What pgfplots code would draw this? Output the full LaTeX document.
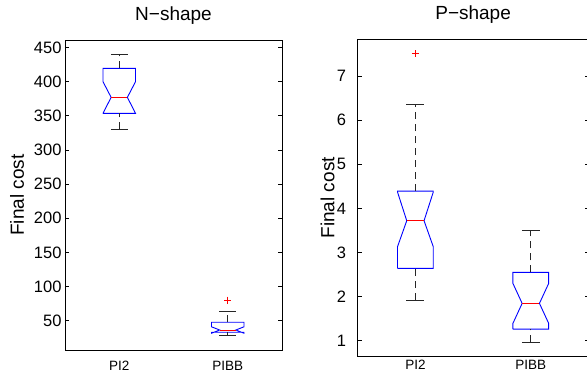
\documentclass[border=0pt]{standalone}
\usepackage{pgfplots}
\pgfplotsset{compat=1.18}
\usepackage{fontspec}
\setmainfont{Liberation Sans}
\pgfplotsset{
  mybox/.style={
    scale only axis, anchor=south west,
    xmin=0.5, xmax=2.5,
    xtick={1,2}, xticklabels={PI2,PIBB},
    xtick pos=bottom, major x tick style={draw=none},
    ytick pos=both, yticklabel pos=left,
    tick align=inside, major tick length=4pt,
    major y tick style={black, line width=0.6pt},
    axis line style={black, line width=0.8pt},
    /pgf/number format/assume math mode=true,
    yticklabel style={font=\fontsize{16.5}{18}\selectfont},
    title style={font=\fontsize{19}{22}\selectfont, anchor=base, inner sep=0pt},
    ylabel style={font=\fontsize{19}{22}\selectfont, anchor=base, inner sep=0pt},
  },
  bx/.style={blue, line width=0.9pt, mark=none},
  md/.style={red, line width=0.9pt, mark=none},
  wk/.style={black!85, line width=0.8pt, mark=none, dash pattern=on 7pt off 5pt},
  cp/.style={black!85, line width=0.8pt, mark=none},
  ol/.style={color=red, draw=red, only marks, mark=+, mark size=3.5pt, line width=1pt, mark options={draw=red, solid}},
}
\begin{document}
\begin{tikzpicture}
\path[use as bounding box] (0,0) rectangle (587pt,372pt);
\clip (0,0) rectangle (587pt,372pt);
% ---------------- N-shape ----------------
\begin{axis}[mybox,
  at={(65pt,22pt)}, width=217pt, height=310pt,
  ymin=7, ymax=461,
  ytick={50,100,...,450},
  xticklabel style={font=\fontsize{13.5}{15}\selectfont, yshift=-7.3pt},
  title={N−shape}, title style={at={(rel axis cs:0.5,1.045)}},
  ylabel={Final cost}, ylabel style={at={(rel axis cs:-0.189,0.5)}},
]
% PI2
\addplot[bx] coordinates {(0.85,353.5) (0.925,377) (0.85,400) (0.85,419.5) (1.15,419.5) (1.15,400) (1.075,377) (1.15,353.5) (0.85,353.5)};
\addplot[md] coordinates {(0.925,377) (1.075,377)};
\addplot[wk] coordinates {(1,419.5) (1,440)};
\addplot[cp] coordinates {(0.922,440) (1.078,440)};
\addplot[wk] coordinates {(1,330) (1,353.5)};
\addplot[cp] coordinates {(0.922,330) (1.078,330)};
% PIBB
\addplot[bx] coordinates {(1.85,33) (1.85,31.5) (1.925,36.3) (1.85,41) (1.85,47.6) (2.15,47.6) (2.15,41) (2.075,36.3) (2.15,31.5) (2.15,33) (1.85,33)};
\addplot[md] coordinates {(1.925,36.3) (2.075,36.3)};
\addplot[wk] coordinates {(2,47.6) (2,63)};
\addplot[cp] coordinates {(1.922,63) (2.078,63)};
\addplot[wk] coordinates {(2,28) (2,33)};
\addplot[cp] coordinates {(1.922,28) (2.078,28)};
\addplot[ol] coordinates {(2,80)};
\end{axis}
% ---------------- P-shape ----------------
\begin{axis}[mybox,
  at={(357.7pt,15.3pt)}, width=230.8pt, height=317.7pt,
  ymin=0.637, ymax=7.84,
  ytick={1,2,...,7},
  yticklabel style={xshift=-8pt},
  xticklabel style={font=\fontsize{13.5}{15}\selectfont, yshift=-0.3pt},
  title={P−shape}, title style={at={(rel axis cs:0.5,1.041)}},
  ylabel={Final cost}, ylabel style={at={(rel axis cs:-0.1014,0.5)}},
]
% PI2
\addplot[bx] coordinates {(0.845,2.64) (0.845,3.13) (0.925,3.72) (0.845,4.37) (0.845,4.39) (1.155,4.39) (1.155,4.37) (1.075,3.72) (1.155,3.13) (1.155,2.64) (0.845,2.64)};
\addplot[md] coordinates {(0.925,3.72) (1.075,3.72)};
\addplot[wk] coordinates {(1,4.39) (1,6.365)};
\addplot[cp] coordinates {(0.922,6.365) (1.078,6.365)};
\addplot[wk] coordinates {(1,1.92) (1,2.64)};
\addplot[cp] coordinates {(0.922,1.92) (1.078,1.92)};
% PIBB
\addplot[bx] coordinates {(1.845,1.263) (1.845,1.392) (1.925,1.846) (1.845,2.299) (1.845,2.549) (2.155,2.549) (2.155,2.299) (2.075,1.846) (2.155,1.392) (2.155,1.263) (1.845,1.263)};
\addplot[md] coordinates {(1.925,1.846) (2.075,1.846)};
\addplot[wk] coordinates {(2,2.549) (2,3.49)};
\addplot[cp] coordinates {(1.922,3.49) (2.078,3.49)};
\addplot[wk] coordinates {(2,0.96) (2,1.263)};
\addplot[cp] coordinates {(1.922,0.96) (2.078,0.96)};
% outlier
\addplot[ol] coordinates {(1,7.51)};
\end{axis}
\end{tikzpicture}
\end{document}
